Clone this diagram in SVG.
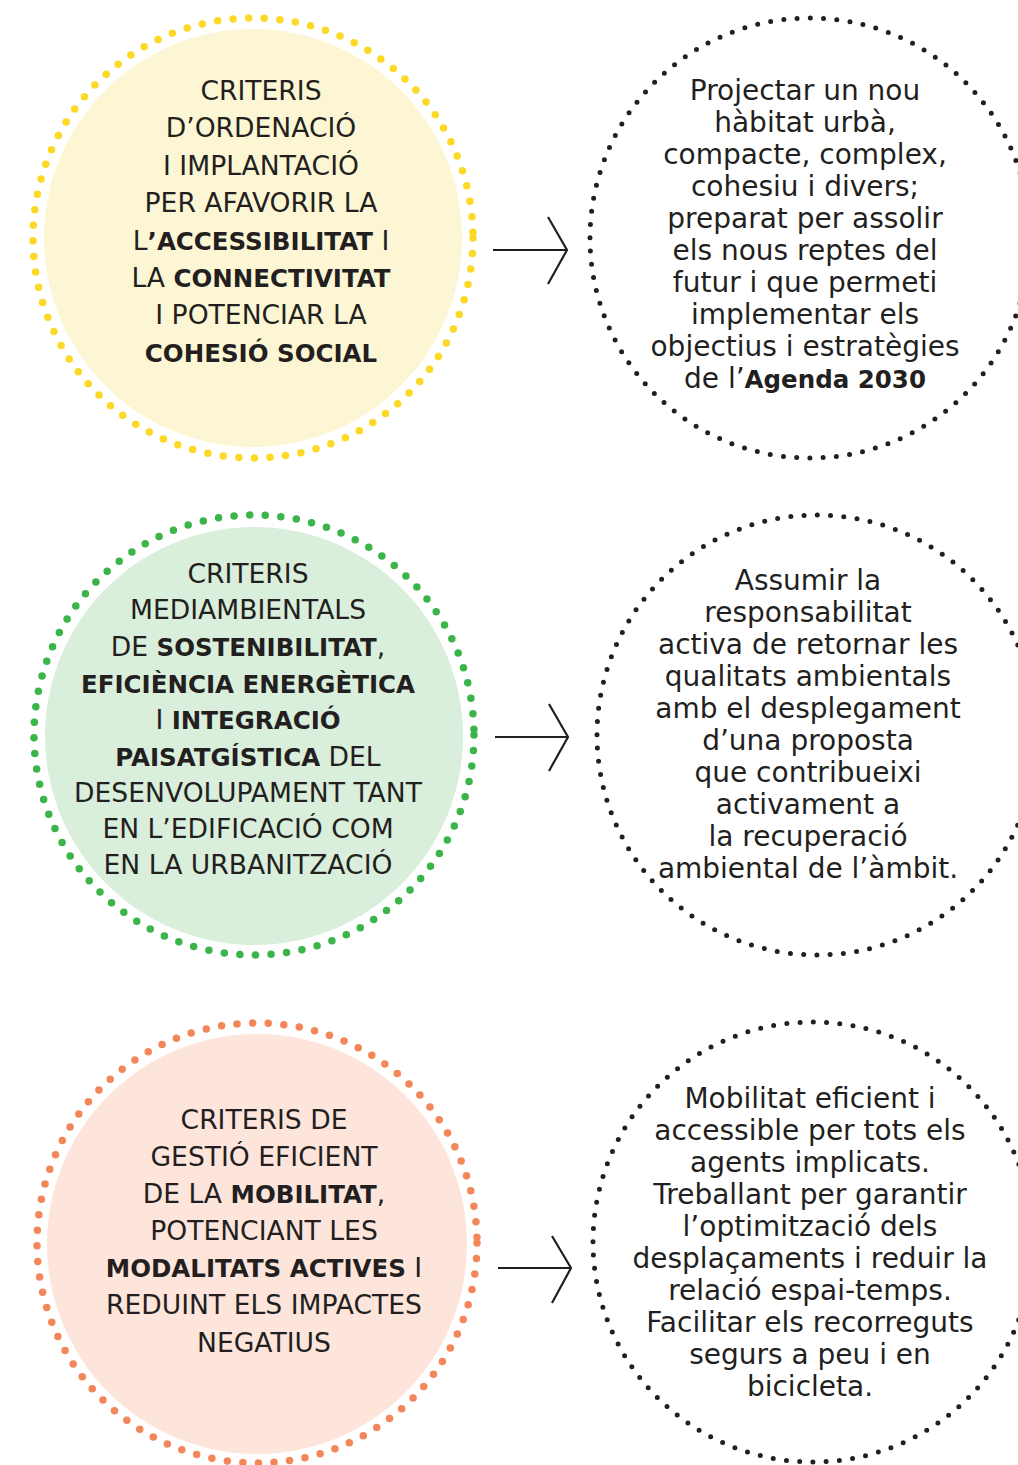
<svg xmlns="http://www.w3.org/2000/svg" width="1018" height="1465" viewBox="0 0 1018 1465">
<style>
.bg{fill:#ffffff}
.t{font-family:"DejaVu Sans","Liberation Sans",sans-serif;fill:#231f20;text-anchor:middle;font-weight:400}
.caps{font-size:26.6px}
.low{font-size:28px}
.b{font-weight:700;font-size:24.5px}
.ring{fill:none;stroke-linecap:round}
.cring{stroke-width:7.5;stroke-dasharray:0 15.636}
.kring{stroke:#231f20;stroke-width:5;stroke-dasharray:0 13.29}
.arrow{fill:none;stroke:#231f20;stroke-width:2.2;stroke-linejoin:miter}
</style>
<rect class="bg" x="0" y="0" width="1018" height="1465"/>

<g id="node-accessibilitat">
<circle cx="253" cy="238" r="209" fill="#fdf6d4"/>
<circle class="ring cring" cx="253" cy="238" r="220" stroke="#fbd926"/>
<text class="t caps" x="261" y="100">CRITERIS</text>
<text class="t caps" x="261" y="137">D’ORDENACIÓ</text>
<text class="t caps" x="261" y="175">I IMPLANTACIÓ</text>
<text class="t caps" x="261" y="212">PER AFAVORIR LA</text>
<text class="t caps" x="261" y="250">L<tspan class="b">’ACCESSIBILITAT</tspan> I</text>
<text class="t caps" x="261" y="287">LA <tspan class="b">CONNECTIVITAT</tspan></text>
<text class="t caps" x="261" y="324">I POTENCIAR LA</text>
<text class="t caps" x="261" y="362"><tspan class="b">COHESIÓ SOCIAL</tspan></text>
</g>

<g id="node-agenda2030">
<circle class="ring kring" cx="810" cy="238" r="220"/>
<text class="t low" x="805" y="100">Projectar un nou</text>
<text class="t low" x="805" y="132">hàbitat urbà,</text>
<text class="t low" x="805" y="164">compacte, complex,</text>
<text class="t low" x="805" y="196">cohesiu i divers;</text>
<text class="t low" x="805" y="228">preparat per assolir</text>
<text class="t low" x="805" y="260">els nous reptes del</text>
<text class="t low" x="805" y="292">futur i que permeti</text>
<text class="t low" x="805" y="324">implementar els</text>
<text class="t low" x="805" y="356">objectius i estratègies</text>
<text class="t low" x="805" y="388">de l’<tspan class="b">Agenda 2030</tspan></text>
</g>

<g id="node-sostenibilitat">
<circle cx="254" cy="736" r="209" fill="#d9eedb"/>
<circle class="ring cring" cx="254" cy="735" r="220" stroke="#3bb54a"/>
<text class="t caps" x="248" y="583">CRITERIS</text>
<text class="t caps" x="248" y="619">MEDIAMBIENTALS</text>
<text class="t caps" x="248" y="656">DE <tspan class="b">SOSTENIBILITAT</tspan>,</text>
<text class="t caps" x="248" y="693"><tspan class="b">EFICIÈNCIA ENERGÈTICA</tspan></text>
<text class="t caps" x="248" y="729">I <tspan class="b">INTEGRACIÓ</tspan></text>
<text class="t caps" x="248" y="766"><tspan class="b">PAISATGÍSTICA</tspan> DEL</text>
<text class="t caps" x="248" y="802">DESENVOLUPAMENT TANT</text>
<text class="t caps" x="248" y="838">EN L’EDIFICACIÓ COM</text>
<text class="t caps" x="248" y="874">EN LA URBANITZACIÓ</text>
</g>

<g id="node-ambiental">
<circle class="ring kring" cx="817" cy="735" r="220"/>
<text class="t low" x="808" y="590">Assumir la</text>
<text class="t low" x="808" y="622">responsabilitat</text>
<text class="t low" x="808" y="654">activa de retornar les</text>
<text class="t low" x="808" y="686">qualitats ambientals</text>
<text class="t low" x="808" y="718">amb el desplegament</text>
<text class="t low" x="808" y="750">d’una proposta</text>
<text class="t low" x="808" y="782">que contribueixi</text>
<text class="t low" x="808" y="814">activament a</text>
<text class="t low" x="808" y="846">la recuperació</text>
<text class="t low" x="808" y="878">ambiental de l’àmbit.</text>
</g>

<g id="node-mobilitat">
<circle cx="257" cy="1244" r="210" fill="#fde5dc"/>
<circle class="ring cring" cx="257" cy="1243" r="220" stroke="#f3875a"/>
<text class="t caps" x="264" y="1129">CRITERIS DE</text>
<text class="t caps" x="264" y="1166">GESTIÓ EFICIENT</text>
<text class="t caps" x="264" y="1203">DE LA <tspan class="b">MOBILITAT</tspan>,</text>
<text class="t caps" x="264" y="1240">POTENCIANT LES</text>
<text class="t caps" x="264" y="1277"><tspan class="b">MODALITATS ACTIVES</tspan> I</text>
<text class="t caps" x="264" y="1314">REDUINT ELS IMPACTES</text>
<text class="t caps" x="264" y="1352">NEGATIUS</text>
</g>

<g id="node-recorreguts">
<circle class="ring kring" cx="813" cy="1242" r="220"/>
<text class="t low" x="810" y="1108">Mobilitat eficient i</text>
<text class="t low" x="810" y="1140">accessible per tots els</text>
<text class="t low" x="810" y="1172">agents implicats.</text>
<text class="t low" x="810" y="1204">Treballant per garantir</text>
<text class="t low" x="810" y="1236">l’optimització dels</text>
<text class="t low" x="810" y="1268">desplaçaments i reduir la</text>
<text class="t low" x="810" y="1300">relació espai-temps.</text>
<text class="t low" x="810" y="1332">Facilitar els recorreguts</text>
<text class="t low" x="810" y="1364">segurs a peu i en</text>
<text class="t low" x="810" y="1396">bicicleta.</text>
</g>

<g id="connectors">
<path class="arrow" d="M493 250 H567 M548 217 L567 250 L548 284"/>
<path class="arrow" d="M495 737 H568 M549 704 L568 737 L549 771"/>
<path class="arrow" d="M498 1268 H571 M552 1236 L571 1268 L552 1303"/>
</g>
</svg>
